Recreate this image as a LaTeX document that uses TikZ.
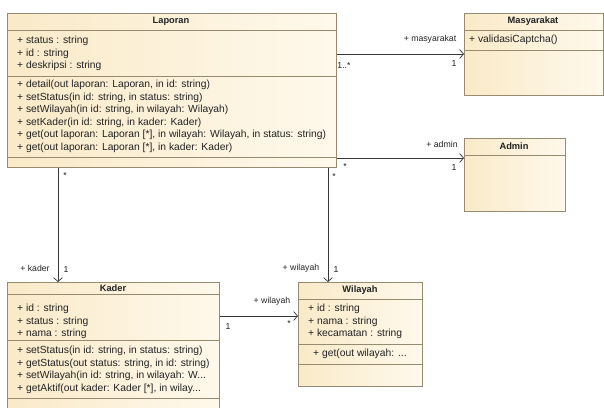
\documentclass[tikz,border=0pt]{standalone}
\usepackage{fontspec}
\setmainfont{Liberation Sans}
\usetikzlibrary{arrows.meta,positioning,calc}
\definecolor{ink}{RGB}{35,35,35}
\definecolor{rim}{RGB}{150,138,112}
\definecolor{beigeL}{RGB}{249,234,200}
\definecolor{beigeR}{RGB}{255,249,236}
\definecolor{wire}{RGB}{55,55,55}
\tikzset{
  cls/.style={rectangle,draw=rim,line width=0.8pt,left color=beigeL,right color=beigeR,
    anchor=north west,inner sep=0pt},
  ttl/.style={font=\fontsize{9.3}{11}\selectfont\bfseries,text=ink,inner sep=0pt},
  mem/.style={anchor=north west,align=left,inner sep=0pt,
    font=\fontsize{10.3}{12.5}\selectfont,text=ink},
  sep/.style={draw=rim,line width=0.8pt},
  assoc/.style={draw=wire,line width=0.7pt,-{Straight Barb[length=4pt,width=9pt]}},
  mult/.style={font=\fontsize{8.7}{10}\selectfont,text=ink,inner sep=0pt},
}
\begin{document}
\begin{tikzpicture}[x=1pt,y=-1pt]
\useasboundingbox[fill=white] (0,0) rectangle (604,407);
% class boxes
\node[cls,minimum width=329pt,minimum height=154pt] (laporan) at (7,13) {};
\node[cls,minimum width=139pt,minimum height=82pt] (masyarakat) at (464,13) {};
\node[cls,minimum width=101pt,minimum height=73pt] (admin) at (464,138) {};
\node[cls,minimum width=212pt,minimum height=135pt] (kader) at (7,282) {};
\node[cls,minimum width=124pt,minimum height=104pt] (wilayah) at (298,282) {};
% compartments
\foreach \cname/\cuts in {laporan/{17,63,144},masyarakat/{17,37},admin/{17},
    kader/{12,58,116},wilayah/{17,62,82}}
  \foreach \d in \cuts
    \draw[sep] ([yshift=-\d pt]\cname.north west) -- ([yshift=-\d pt]\cname.north east);
% titles
\node[ttl] (tLap) at (171,21.5) {Laporan};
\node[ttl] (tMas) at (533,21.5) {Masyarakat};
\node[ttl] (tAdm) at (514,146.5) {Admin};
\node[ttl] (tKad) at (113,288) {Kader};
\node[ttl] (tWil) at (360,290.5) {Wilayah};
% members
\node[mem] (aLap) at (17,36) {+ status : string\\+ id : string\\+ deskripsi : string};
\node[mem] (mLap) at (17,80) {+ detail(out laporan: Laporan, in id: string)\\
  + setStatus(in id: string, in status: string)\\
  + setWilayah(in id: string, in wilayah: Wilayah)\\
  + setKader(in id: string, in kader: Kader)\\
  + get(out laporan: Laporan [*], in wilayah: Wilayah, in status: string)\\
  + get(out laporan: Laporan [*], in kader: Kader)};
\node[mem] (mMas) at (469,35) {+ validasiCaptcha()};
\node[mem] (aKad) at (17,304) {+ id : string\\+ status : string\\+ nama : string};
\node[mem] (mKad) at (17,346) {+ setStatus(in id: string, in status: string)\\
  + getStatus(out status: string, in id: string)\\
  + setWilayah(in id: string, in wilayah: W...\\
  + getAktif(out kader: Kader [*], in wilay...};
\node[mem] (aWil) at (308,304) {+ id : string\\+ nama : string\\+ kecamatan : string};
\node[mem] (mWil) at (313,349) {+ get(out wilayah: ...};
% association ends
\coordinate (toMas) at ([yshift=-41pt]masyarakat.north west);
\coordinate (toAdm) at ([yshift=-20pt]admin.north west);
\coordinate (toKad) at ([xshift=51pt]kader.north west);
\coordinate (toWil) at ([xshift=30pt]wilayah.north west);
\coordinate (sideWil) at ([yshift=-34pt]wilayah.north west);
\draw[assoc] (laporan.east |- toMas) -- (toMas);
\draw[assoc] (laporan.east |- toAdm) -- (toAdm);
\draw[assoc] (laporan.south -| toKad) -- (toKad);
\draw[assoc] (laporan.south -| toWil) -- (toWil);
\draw[assoc] (kader.east |- sideWil) -- (sideWil);
% roles and multiplicities
\node[mult] (rMas) at (430,39) {+ masyarakat};
\node[mult] (nMas) at (454,64) {1};
\node[mult] (sMas) at (344,66) {1..*};
\node[mult] (rAdm) at (442,144) {+ admin};
\node[mult] (nAdm) at (454,168) {1};
\node[mult] (sAdm) at (345,167) {*};
\node[mult] (sKad) at (65,176) {*};
\node[mult] (rKad) at (35,268) {+ kader};
\node[mult] (nKad) at (66,270) {1};
\node[mult] (sWil) at (334,177) {*};
\node[mult] (rWil) at (301,268) {+ wilayah};
\node[mult] (nWil) at (336,270) {1};
\node[mult] (rSide) at (272,301) {+ wilayah};
\node[mult] (nSide) at (228,327) {1};
\node[mult] (mSide) at (289,324) {*};
\end{tikzpicture}
\end{document}
